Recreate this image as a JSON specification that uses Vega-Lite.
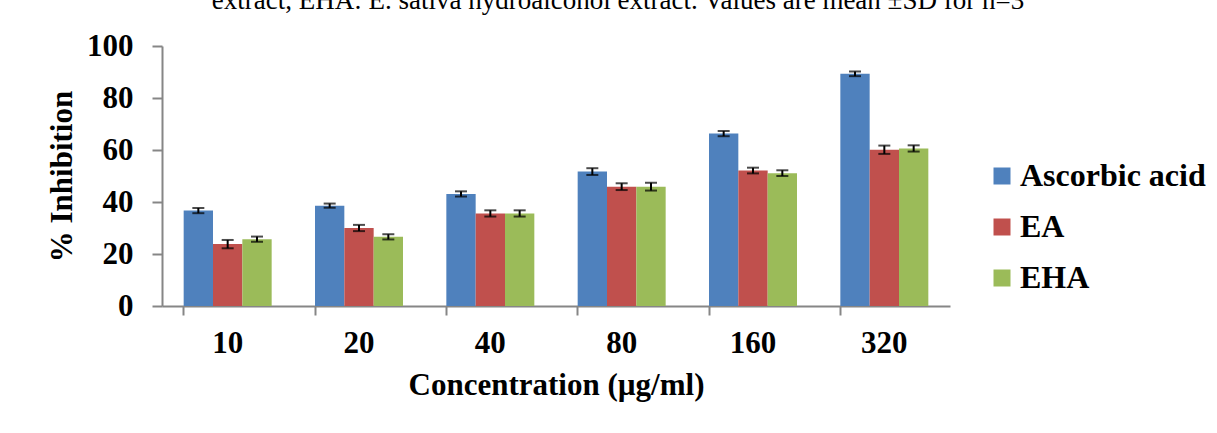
{
  "$schema": "https://vega.github.io/schema/vega-lite/v6.json",
  "autosize": {"type": "none"},
  "width": 788,
  "height": 260,
  "padding": {"left": 162, "top": 46, "right": 267, "bottom": 127},
  "background": "white",
  "title": {
    "text": "extract, EHA: E. sativa hydroalcohol extract. Values are mean ±SD for n=3",
    "font": "Liberation Serif",
    "fontSize": 27,
    "fontWeight": "normal",
    "color": "black",
    "anchor": "middle",
    "baseline": "alphabetic",
    "offset": 0,
    "dx": 62,
    "dy": 6
  },
  "config": {
    "view": {"stroke": null},
    "font": "Liberation Serif"
  },
  "data": {
    "values": [
      {"conc": "10", "series": "Ascorbic acid", "value": 36.7, "lo": 35.7, "hi": 37.7},
      {"conc": "10", "series": "EA", "value": 23.8, "lo": 22.2, "hi": 25.4},
      {"conc": "10", "series": "EHA", "value": 25.7, "lo": 24.7, "hi": 26.7},
      {"conc": "20", "series": "Ascorbic acid", "value": 38.6, "lo": 37.8, "hi": 39.4},
      {"conc": "20", "series": "EA", "value": 30.0, "lo": 28.8, "hi": 31.2},
      {"conc": "20", "series": "EHA", "value": 26.6, "lo": 25.6, "hi": 27.6},
      {"conc": "40", "series": "Ascorbic acid", "value": 43.1, "lo": 42.1, "hi": 44.1},
      {"conc": "40", "series": "EA", "value": 35.6, "lo": 34.4, "hi": 36.8},
      {"conc": "40", "series": "EHA", "value": 35.6, "lo": 34.4, "hi": 36.8},
      {"conc": "80", "series": "Ascorbic acid", "value": 51.7, "lo": 50.4, "hi": 53.0},
      {"conc": "80", "series": "EA", "value": 45.9, "lo": 44.6, "hi": 47.2},
      {"conc": "80", "series": "EHA", "value": 45.9, "lo": 44.4, "hi": 47.4},
      {"conc": "160", "series": "Ascorbic acid", "value": 66.3, "lo": 65.3, "hi": 67.3},
      {"conc": "160", "series": "EA", "value": 52.1, "lo": 51.0, "hi": 53.2},
      {"conc": "160", "series": "EHA", "value": 51.1, "lo": 50.0, "hi": 52.2},
      {"conc": "320", "series": "Ascorbic acid", "value": 89.3, "lo": 88.4, "hi": 90.2},
      {"conc": "320", "series": "EA", "value": 60.1, "lo": 58.5, "hi": 61.7},
      {"conc": "320", "series": "EHA", "value": 60.6, "lo": 59.4, "hi": 61.8}
    ]
  },
  "encoding": {
    "x": {
      "field": "conc",
      "type": "nominal",
      "sort": ["10", "20", "40", "80", "160", "320"],
      "scale": {"paddingInner": 0.33, "paddingOuter": 0.165},
      "axis": {
        "title": "Concentration (µg/ml)",
        "labelAngle": 0,
        "bandPosition": 0,
        "labelFont": "Liberation Serif",
        "labelFontSize": 31,
        "labelFontWeight": "bold",
        "labelColor": "black",
        "labelPadding": 13,
        "labelBaseline": "top",
        "titleFont": "Liberation Serif",
        "titleFontSize": 31,
        "titleFontWeight": "bold",
        "titleColor": "black",
        "titlePadding": 12,
        "domainColor": "#868686",
        "domainWidth": 2,
        "tickColor": "#868686",
        "tickWidth": 2,
        "tickSize": 9,
        "grid": false
      }
    },
    "xOffset": {
      "field": "series",
      "type": "nominal",
      "sort": ["Ascorbic acid", "EA", "EHA"],
      "scale": {"paddingInner": 0, "paddingOuter": 0}
    }
  },
  "layer": [
    {
      "mark": {"type": "bar"},
      "encoding": {
        "y": {
          "field": "value",
          "type": "quantitative",
          "scale": {"domain": [0, 100]},
          "axis": {
            "title": "% Inhibition",
            "values": [0, 20, 40, 60, 80, 100],
            "grid": false,
            "labelFont": "Liberation Serif",
            "labelFontSize": 31,
            "labelFontWeight": "bold",
            "labelColor": "black",
            "labelPadding": 19,
            "titleFont": "Liberation Serif",
            "titleFontSize": 31,
            "titleFontWeight": "bold",
            "titleColor": "black",
            "titlePadding": 8,
            "domainColor": "#868686",
            "domainWidth": 2,
            "tickColor": "#868686",
            "tickWidth": 2,
            "tickSize": 10
          }
        },
        "color": {
          "field": "series",
          "type": "nominal",
          "sort": ["Ascorbic acid", "EA", "EHA"],
          "scale": {"domain": ["Ascorbic acid", "EA", "EHA"], "range": ["#4F81BD", "#C0504D", "#9BBB59"]},
          "legend": {
            "title": null,
            "orient": "none",
            "legendX": 824,
            "legendY": 114,
            "padding": 0,
            "symbolType": "square",
            "symbolSize": 289,
            "symbolStrokeWidth": 0,
            "labelFont": "Liberation Serif",
            "labelFontSize": 32,
            "labelFontWeight": "bold",
            "labelColor": "black",
            "labelOffset": 2,
            "rowPadding": 19,
            "labelLimit": 400
          }
        }
      }
    },
    {
      "mark": {"type": "rule", "color": "black", "strokeWidth": 2},
      "encoding": {
        "y": {"field": "lo", "type": "quantitative"},
        "y2": {"field": "hi"}
      }
    },
    {
      "mark": {"type": "tick", "color": "black", "thickness": 2, "size": 12},
      "encoding": {
        "y": {"field": "lo", "type": "quantitative"}
      }
    },
    {
      "mark": {"type": "tick", "color": "black", "thickness": 2, "size": 12},
      "encoding": {
        "y": {"field": "hi", "type": "quantitative"}
      }
    }
  ]
}
